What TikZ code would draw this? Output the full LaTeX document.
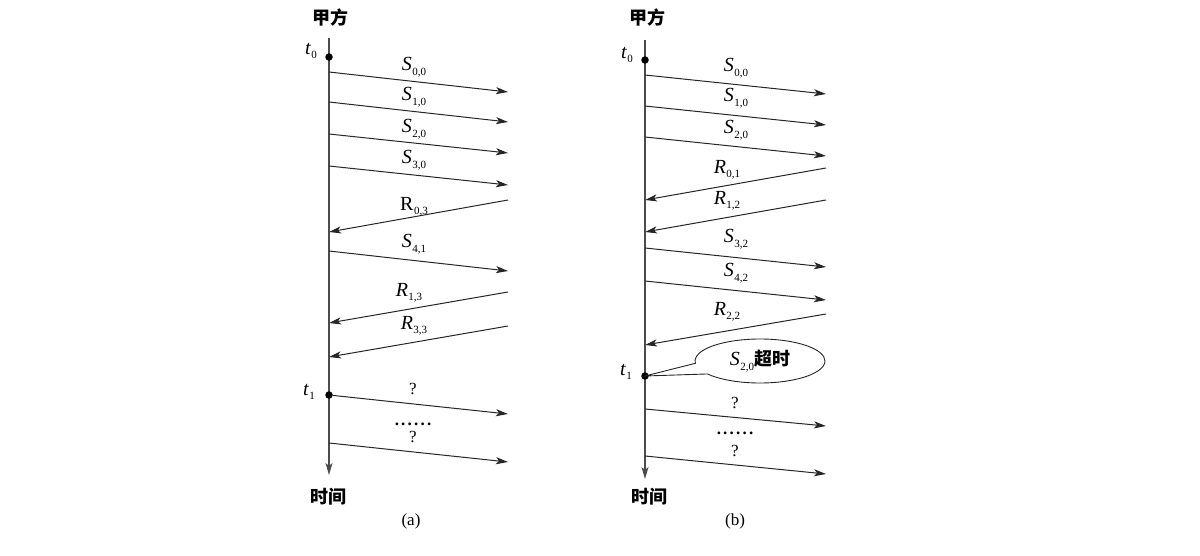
\documentclass[tikz,border=0pt]{standalone}
\usepackage{fontspec}
\setmainfont{Liberation Serif}
\newfontfamily\cjk{Noto Sans CJK SC}
\usetikzlibrary{arrows.meta,shapes.callouts,shapes.geometric}
\newcommand{\lab}[3]{{#1#2}\kern0.5pt\raisebox{-0.5ex}{\normalfont\fontsize{11}{11}\selectfont #3}}
\newcommand{\sixdots}{.\hspace{2.2pt}.\hspace{2.2pt}.\hspace{2.2pt}.\hspace{2.2pt}.\hspace{2.2pt}.}
\begin{document}
\begin{tikzpicture}[x=1pt,y=-1pt,
  timeline/.style={draw=black!70,line width=1.3pt,-{Stealth[length=12pt,width=7pt,inset=3pt]}},
  msg/.style={draw=black!85,line width=1pt,-{Stealth[length=12pt,width=7pt,inset=3pt]}},
  dotp/.style={circle,fill=black,inner sep=0pt,minimum size=7.5pt},
  lbl/.style={inner sep=0pt,font=\fontsize{20}{20}\selectfont},
  cjklbl/.style={inner sep=0pt,font=\cjk\bfseries\fontsize{18}{18}\selectfont},
  qm/.style={inner sep=0pt,font=\fontsize{17}{17}\selectfont},
  dotsl/.style={inner sep=0pt,font=\bfseries\fontsize{17}{17}\selectfont},
  captxt/.style={inner sep=0pt,font=\fontsize{17}{17}\selectfont}]
\useasboundingbox (0,0) rectangle (1200,556);
% ---------------- panel (a)
\coordinate (aT) at (329,38);
\coordinate (aB) at (329,475);
\draw[timeline] (aT) -- (aB);
\node[cjklbl] (aTop) at (330,18) {甲方};
\node[cjklbl] (aBot) at (328,497) {时间};
\node[captxt] (acap) at (411,521) {(a)};
\node[dotp] (at0) at (329,57) {};
\node[lbl] (at0l) at (311,51) {\lab{\itshape}{t}{0}};
\node[dotp] (at1) at (329,395) {};
\node[lbl] (at1l) at (309,392) {\lab{\itshape}{t}{1}};
\coordinate (a1s) at (329,72);  \coordinate (a1e) at (508,92);
\coordinate (a2s) at (329,102); \coordinate (a2e) at (508,122);
\coordinate (a3s) at (329,134); \coordinate (a3e) at (508,153);
\coordinate (a4s) at (329,166); \coordinate (a4e) at (508,185);
\coordinate (a5s) at (508,200); \coordinate (a5e) at (329,232);
\coordinate (a6s) at (329,251); \coordinate (a6e) at (508,271);
\coordinate (a7s) at (508,292); \coordinate (a7e) at (329,323);
\coordinate (a8s) at (508,326); \coordinate (a8e) at (329,357);
\coordinate (a10e) at (508,414);
\coordinate (a11s) at (329,443); \coordinate (a11e) at (508,462);
\draw[msg] (a1s) -- (a1e);
\draw[msg] (a2s) -- (a2e);
\draw[msg] (a3s) -- (a3e);
\draw[msg] (a4s) -- (a4e);
\draw[msg] (a5s) -- (a5e);
\draw[msg] (a6s) -- (a6e);
\draw[msg] (a7s) -- (a7e);
\draw[msg] (a8s) -- (a8e);
\draw[msg] (at1) -- (a10e);
\draw[msg] (a11s) -- (a11e);
\node[lbl] (la1) at (414,67) {\lab{\itshape}{S}{0,0}};
\node[lbl] (la2) at (414,97) {\lab{\itshape}{S}{1,0}};
\node[lbl] (la3) at (414,129) {\lab{\itshape}{S}{2,0}};
\node[lbl] (la4) at (414,160) {\lab{\itshape}{S}{3,0}};
\node[lbl] (la5) at (414,207) {\lab{}{R}{0,3}};
\node[lbl] (la6) at (414,244) {\lab{\itshape}{S}{4,1}};
\node[lbl] (la7) at (409,293) {\lab{\itshape}{R}{1,3}};
\node[lbl] (la8) at (414,326) {\lab{\itshape}{R}{3,3}};
\node[qm] (qa1) at (413,389) {?};
\node[dotsl] (da) at (413,424) {\sixdots};
\node[qm] (qa2) at (413,437) {?};
% ---------------- panel (b)
\coordinate (bT) at (645,40);
\coordinate (bB) at (645,479);
\draw[timeline] (bT) -- (bB);
\node[cjklbl] (bTop) at (647,18) {甲方};
\node[cjklbl] (bBot) at (649,497) {时间};
\node[captxt] (bcap) at (735,521) {(b)};
\node[dotp] (bt0) at (645,60) {};
\node[lbl] (bt0l) at (627,55) {\lab{\itshape}{t}{0}};
\node[dotp] (bt1) at (645,376) {};
\node[lbl] (bt1l) at (626,372) {\lab{\itshape}{t}{1}};
\coordinate (b1s) at (645,75);  \coordinate (b1e) at (826,94);
\coordinate (b2s) at (645,106); \coordinate (b2e) at (826,125);
\coordinate (b3s) at (645,137); \coordinate (b3e) at (826,156);
\coordinate (b4s) at (826,168); \coordinate (b4e) at (645,200);
\coordinate (b5s) at (826,200); \coordinate (b5e) at (645,232);
\coordinate (b6s) at (645,248); \coordinate (b6e) at (826,267);
\coordinate (b7s) at (645,281); \coordinate (b7e) at (826,300);
\coordinate (b8s) at (826,314); \coordinate (b8e) at (645,345);
\coordinate (b9s) at (645,409); \coordinate (b9e) at (826,426);
\coordinate (b10s) at (645,456); \coordinate (b10e) at (826,474);
\draw[msg] (b1s) -- (b1e);
\draw[msg] (b2s) -- (b2e);
\draw[msg] (b3s) -- (b3e);
\draw[msg] (b4s) -- (b4e);
\draw[msg] (b5s) -- (b5e);
\draw[msg] (b6s) -- (b6e);
\draw[msg] (b7s) -- (b7e);
\draw[msg] (b8s) -- (b8e);
\draw[msg] (b9s) -- (b9e);
\draw[msg] (b10s) -- (b10e);
\node[lbl] (lb1) at (736,68) {\lab{\itshape}{S}{0,0}};
\node[lbl] (lb2) at (736,98) {\lab{\itshape}{S}{1,0}};
\node[lbl] (lb3) at (736,130) {\lab{\itshape}{S}{2,0}};
\node[lbl] (lb4) at (727,170) {\lab{\itshape}{R}{0,1}};
\node[lbl] (lb5) at (727,201) {\lab{\itshape}{R}{1,2}};
\node[lbl] (lb6) at (736,239) {\lab{\itshape}{S}{3,2}};
\node[lbl] (lb7) at (736,273) {\lab{\itshape}{S}{4,2}};
\node[lbl] (lb8) at (727,312) {\lab{\itshape}{R}{2,2}};
\node[ellipse callout,draw=black!85,line width=0.9pt,minimum width=130pt,minimum height=44pt,inner sep=0pt,
  callout absolute pointer={(bt1)},callout pointer arc=30] (call) at (760,361)
  {\fontsize{20}{20}\selectfont\lab{\itshape}{S}{2,0}{\cjk\bfseries\fontsize{18}{18}\selectfont 超时}};
\node[qm] (qb1) at (735,403) {?};
\node[dotsl] (db) at (735,433) {\sixdots};
\node[qm] (qb2) at (735,451) {?};
\end{tikzpicture}
\end{document}
